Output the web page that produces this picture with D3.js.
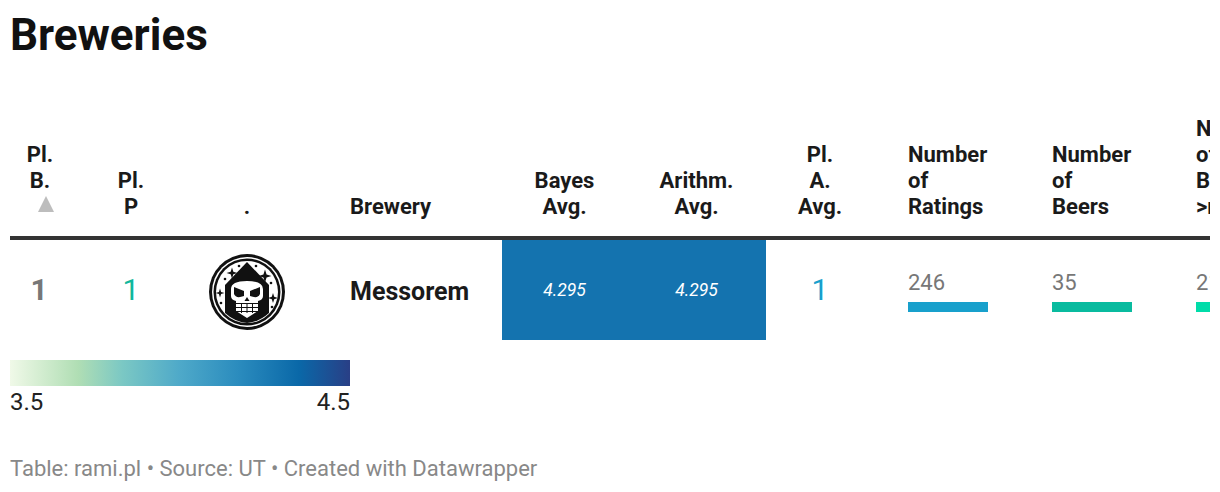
<!DOCTYPE html>
<html>
<head>
<meta charset="utf-8">
<script src="https://cdn.jsdelivr.net/npm/d3@7"></script>
<style>
    html, body { margin: 0; padding: 0; background: #fff; overflow: hidden; }
    text { font-family: Roboto, sans-serif; }
    svg { opacity: 0.999; }
</style>
</head>
<body>
<svg id="table" width="1220" height="492"></svg>
<script>
const title = "Breweries";
const footer = "Table: rami.pl • Source: UT • Created with Datawrapper";
const breweryName = "Messorem";

// header labels, split in lines as they wrap in the picture
const centerHeaders = [
    {lines: ["Pl.", "B."], col: "plB"},
    {lines: ["Pl.", "P"], col: "plP"},
    {lines: ["."], col: "logo"},
    {lines: ["Bayes", "Avg."], col: "bayes"},
    {lines: ["Arithm.", "Avg."], col: "arithm"},
    {lines: ["Pl.", "A.", "Avg."], col: "plA"}
];
const leftHeaders = [
    {lines: ["Brewery"], col: "brewery"},
    {lines: ["Number", "of", "Ratings"], col: "ratings"},
    {lines: ["Number", "of", "Beers"], col: "beers"},
    {lines: ["Number", "of", "Beers", ">rating"], col: "beersOver"}
];

const plB = 1;
const plP = 1;
const plA = 1;
const bayesAvg = 4.295;
const arithmAvg = 4.295;
const numRatings = 246;
const numBeers = 35;
const numBeersOver = 21;

const legendDomain = [3.5, 4.5];
const legendStops = ["#f0f9e8", "#b0deb4", "#7bc8c4", "#4ea9c9", "#2b8cbe", "#0a68a8", "#293f86"];
const legendOffsets = [0, 0.2, 0.33, 0.5, 0.67, 0.85, 1];

// left edges of the columns
const colX = {plB: 10, plP: 70, logo: 180, brewery: 350, bayes: 502, arithm: 634, plA: 766, ratings: 908, beers: 1052, beersOver: 1196};
const colW = {plB: 60, plP: 122, logo: 134, bayes: 125, arithm: 125, plA: 108};
const cellW = 132;
const headBottom = 206, lineH = 26;
const rowTop = 240, rowH = 100;

const svg = d3.select("svg#table");
const ink = "#1a1a1a";

svg.append("text")
    .attr("x", 10).attr("y", 50)
    .attr("font-size", 44).attr("font-weight", 700)
    .attr("fill", "#111")
    .text(title);

const clip = svg.append("defs").append("clipPath").attr("id", "chartClip");
clip.append("rect").attr("x", 0).attr("y", 0).attr("width", 1210).attr("height", 492);
const table = svg.append("g").attr("clip-path", "url(#chartClip)");

// headers
function drawHeader(h, x, anchor) {
    // the sorted column keeps its arrow on the last line
    const shift = h.col === "plB" ? lineH : 0;
    h.lines.forEach((line, i) => {
        table.append("text")
            .attr("x", x)
            .attr("y", headBottom - shift - (h.lines.length - 1 - i) * lineH + 8)
            .attr("text-anchor", anchor)
            .attr("font-size", 22)
            .attr("font-weight", 700)
            .attr("fill", ink)
            .text(line);
    });
}
centerHeaders.forEach(h => drawHeader(h, colX[h.col] + colW[h.col] / 2, "middle"));
leftHeaders.forEach(h => drawHeader(h, colX[h.col], "start"));

// sort arrow
table.append("path")
    .attr("d", "M0,-8 L8,8 L-8,8 Z")
    .attr("transform", "translate(46,204)")
    .attr("fill", "#bdbdbd");

table.append("rect")
    .attr("x", 10).attr("y", 236)
    .attr("width", 1200).attr("height", 4)
    .attr("fill", "#333");

// heat cells
const heatColor = d3.scaleLinear()
    .domain(legendOffsets.map(o => legendDomain[0] + o * (legendDomain[1] - legendDomain[0])))
    .range(legendStops);

[["bayes", bayesAvg], ["arithm", arithmAvg]].forEach(([col, v]) => {
    table.append("rect")
        .attr("x", colX[col]).attr("y", rowTop)
        .attr("width", cellW).attr("height", rowH)
        .attr("fill", heatColor(v));
    table.append("text")
        .attr("x", colX[col] + colW[col] / 2).attr("y", 296)
        .attr("text-anchor", "middle")
        .attr("font-size", 17.5).attr("font-style", "italic")
        .attr("fill", "#fff")
        .text(d3.format(".3f")(v));
});

// rank numbers
[["plB", plB, "#777"], ["plP", plP, "#10b79c"], ["plA", plA, "#18a0cc"]].forEach(([col, v, color]) => {
    const x = col === "plB" ? 39 : colX[col] + colW[col] / 2;
    table.append("text")
        .attr("x", x).attr("y", 300)
        .attr("text-anchor", "middle")
        .attr("font-size", 30).attr("font-weight", col === "plB" ? 700 : 400)
        .attr("fill", color)
        .text(v);
});

table.append("text")
    .attr("x", colX.brewery).attr("y", 300)
    .attr("font-size", 25).attr("font-weight", 700)
    .attr("fill", ink)
    .text(breweryName);

// bar columns
const barCols = [
    {col: "ratings", value: numRatings, color: "#18a0cc"},
    {col: "beers", value: numBeers, color: "#09bb9f"},
    {col: "beersOver", value: numBeersOver, color: "#00dca9"}
];
barCols.forEach(b => {
    const barScale = d3.scaleLinear().domain([0, b.value]).range([0, 80]);
    table.append("text")
        .attr("x", colX[b.col]).attr("y", 290)
        .attr("font-size", 22).attr("fill", "#777")
        .text(b.value);
    table.append("rect")
        .attr("x", colX[b.col]).attr("y", 302)
        .attr("width", barScale(b.value)).attr("height", 10)
        .attr("fill", b.color);
});

// logo
const logo = table.append("g").attr("transform", "translate(247,292)");
logo.append("circle").attr("r", 38).attr("fill", "#111");
logo.append("circle").attr("r", 35).attr("fill", "#fff");
logo.append("circle").attr("r", 33.5).attr("fill", "#111");
logo.append("circle").attr("r", 31).attr("fill", "#fff");
// hood
logo.append("path")
    .attr("d", "M0,-30 L22,-7 L22,21 Q12,30 0,31 Q-12,30 -22,21 L-22,-7 Z")
    .attr("fill", "#111");
// skull
logo.append("path")
    .attr("d", "M-16,-3 Q-16,-11 0,-11 Q16,-11 16,-3 L16,4 Q16,8 11,9 L11,19 L0,26 L-11,19 L-11,9 Q-16,8 -16,4 Z")
    .attr("fill", "#fff");
logo.append("path").attr("d", "M-13,-5 L-3,-1 L-3,4 Q-11,7 -13,2 Z").attr("fill", "#111");
logo.append("path").attr("d", "M13,-5 L3,-1 L3,4 Q11,7 13,2 Z").attr("fill", "#111");
logo.append("path").attr("d", "M0,5 L2.5,9 L-2.5,9 Z").attr("fill", "#111");
logo.append("path").attr("d", "M-11,11 H11 V12 H-11 Z M-11,15 H11 V16 H-11 Z M-11,19 H11 V20 H-11 Z M-6,11 H-5 V21 H-6 Z M-0.5,11 H0.5 V21 H-0.5 Z M5,11 H6 V21 H5 Z").attr("fill", "#111");
// stars
const star = "M0,-5 L1.2,-1.2 L5,0 L1.2,1.2 L0,5 L-1.2,1.2 L-5,0 L-1.2,-1.2 Z";
[[-15, -19, 1.1], [18, -16, 1.3], [-27, 1, 0.9], [26, 6, 1]].forEach(s => {
    logo.append("path").attr("d", star)
        .attr("transform", `translate(${s[0]},${s[1]}) scale(${s[2]})`)
        .attr("fill", "#111");
});
[[-8, -26], [9, -26], [-22, -13], [24, -9], [-26, 11], [25, 15]].forEach(s => {
    logo.append("circle").attr("cx", s[0]).attr("cy", s[1]).attr("r", 1.3).attr("fill", "#111");
});

// legend
const grad = svg.select("defs").append("linearGradient").attr("id", "legendGrad");
legendStops.forEach((c, i) => {
    grad.append("stop").attr("offset", legendOffsets[i]).attr("stop-color", c);
});
const legendScale = d3.scaleLinear().domain(legendDomain).range([10, 350]);
svg.append("rect")
    .attr("x", legendScale(legendDomain[0])).attr("y", 360)
    .attr("width", legendScale(legendDomain[1]) - legendScale(legendDomain[0])).attr("height", 26)
    .attr("fill", "url(#legendGrad)");
legendDomain.forEach((v, i) => {
    svg.append("text")
        .attr("x", legendScale(v)).attr("y", 410)
        .attr("text-anchor", i ? "end" : "start")
        .attr("font-size", 24).attr("fill", "#222")
        .text(d3.format(".1f")(v));
});

svg.append("text")
    .attr("x", 10).attr("y", 476)
    .attr("font-size", 22).attr("fill", "#888")
    .text(footer);
</script>
</body>
</html>
